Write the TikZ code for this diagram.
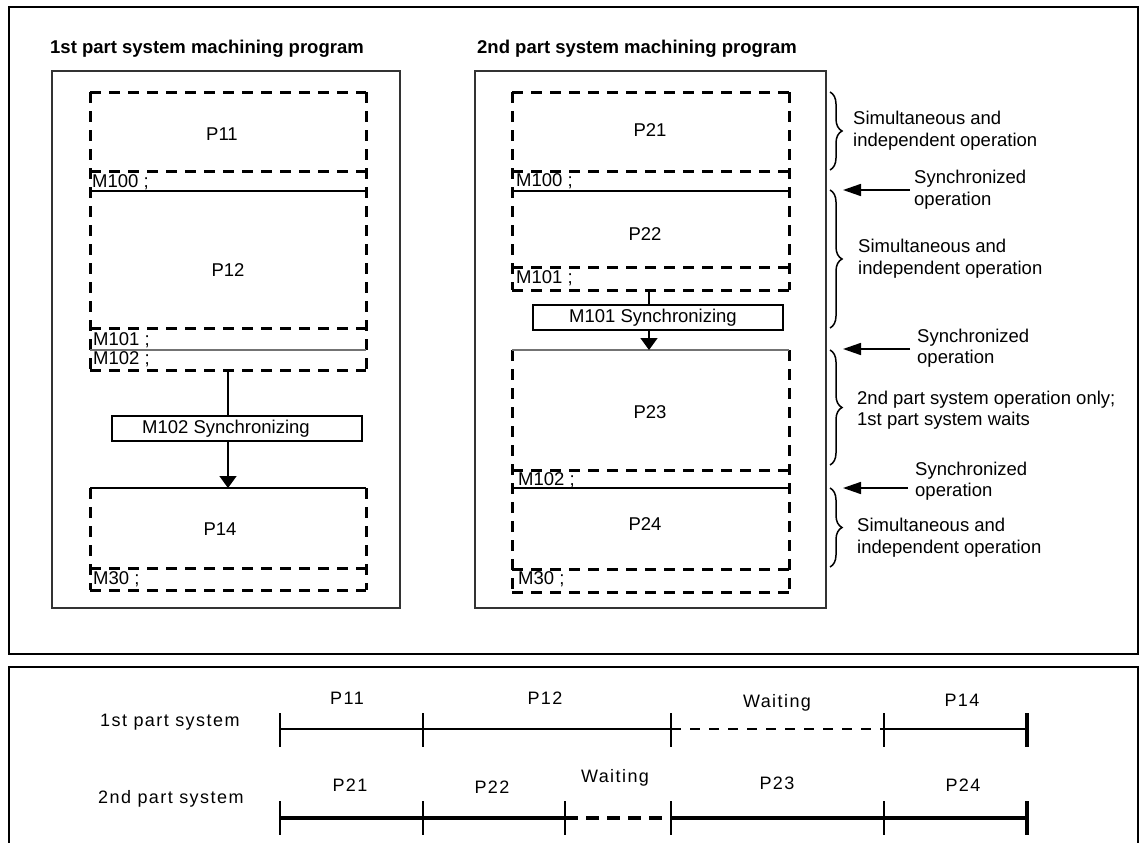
\documentclass[tikz,border=0pt]{standalone}
\usepackage{fontspec}
\setmainfont{Liberation Sans}
\usetikzlibrary{arrows.meta,decorations.pathreplacing}
\begin{document}
\begin{tikzpicture}[x=1pt,y=-1pt,
 every node/.style={font=\fontsize{18.5}{21.5}\selectfont, inner sep=0pt},
 outerframe/.style={line width=2pt},
 progbox/.style={line width=1.8pt, draw=black!80},
 dsh/.style={line width=3pt, dash pattern=on 11pt off 8pt},
 sol/.style={line width=2.2pt},
 grayline/.style={line width=1.6pt, draw=black!55},
 syncbox/.style={draw, line width=1.5pt, minimum width=250pt, minimum height=25pt},
 arr/.style={line width=1.6pt, -{Triangle[length=12pt,width=17pt]}},
 sarr/.style={line width=1.6pt, -{Triangle[length=18pt,width=12pt]}},
 brc/.style={decorate, decoration={brace, amplitude=12pt}, line width=1.5pt},
 mlab/.style={anchor=west},
 side/.style={anchor=west, align=left},
 tl/.style={font=\fontsize{18}{21}\selectfont\addfontfeature{LetterSpace=8}},
 tthin/.style={line width=1.8pt},
 tthick/.style={line width=4pt},
 tick/.style={line width=2.2pt},
 endtick/.style={line width=4.5pt},
]
\useasboundingbox (0,0) rectangle (1143,843);
% frames
\draw[outerframe] (9,7) rectangle (1138,654);
\draw[outerframe] (9,843) -- (9,667) -- (1138,667) -- (1138,843);
\draw[progbox] (52,71) rectangle (400,608);
\draw[progbox] (475,71) rectangle (826,608);
\node[anchor=west, font=\fontsize{18.5}{21.5}\selectfont\bfseries] (t1) at (50,49) {1st part system machining program};
\node[anchor=west, font=\fontsize{18.5}{21.5}\selectfont\bfseries] (t2) at (477,49) {2nd part system machining program};

% ---- left program
\draw[dsh] (90,92) -- (366,92);
\draw[dsh] (90,171) -- (366,171);
\draw[dsh] (90,328) -- (366,328);
\draw[dsh] (90,370) -- (366,370);
\draw[dsh] (90,92) -- (90,370);
\draw[dsh] (366,92) -- (366,370);
\draw[sol] (90,191) -- (366,191);
\draw[grayline] (90,350) -- (366,350);
\draw[sol] (90,488) -- (366,488);
\draw[dsh] (90,488) -- (90,590);
\draw[dsh] (366,488) -- (366,590);
\draw[dsh] (90,568) -- (366,568);
\draw[dsh] (90,590) -- (366,590);
\node (p11) at (222,134) {P11};
\node (p12) at (228,270) {P12};
\node (p14) at (220,529) {P14};
\node[mlab] (m100a) at (92,182) {M100 ;};
\node[mlab] (m101a) at (93,340) {M101 ;};
\node[mlab] (m102a) at (93,359) {M102 ;};
\node[mlab] (m30a) at (93,579) {M30 ;};
\coordinate (c1top) at (228,370);
\coordinate (c1end) at (228,488);
\node[syncbox] (s1) at (237,428.5) {};
\node (s1t) at (226,428.5) {M102 Synchronizing};
\draw[line width=1.6pt] (c1top) -- (c1top |- s1.north);
\draw[arr] (c1top |- s1.south) -- (c1end);

% ---- right program
\draw[dsh] (512,92) -- (789,92);
\draw[dsh] (512,171) -- (789,171);
\draw[dsh] (512,267) -- (789,267);
\draw[dsh] (512,290) -- (789,290);
\draw[dsh] (512,92) -- (512,290);
\draw[dsh] (789,92) -- (789,290);
\draw[sol] (512,191) -- (789,191);
\draw[dsh] (512,350) -- (512,592);
\draw[dsh] (789,350) -- (789,592);
\draw[dsh] (512,470) -- (789,470);
\draw[dsh] (512,569) -- (789,569);
\draw[dsh] (512,592) -- (789,592);
\draw[grayline] (512,350) -- (789,350);
\draw[sol] (512,488) -- (789,488);
\node (p21) at (650,130) {P21};
\node (p22) at (645,234) {P22};
\node (p23) at (650,412) {P23};
\node (p24) at (645,524) {P24};
\node[mlab] (m100b) at (516,181) {M100 ;};
\node[mlab] (m101b) at (516,278) {M101 ;};
\node[mlab] (m102b) at (518,480) {M102 ;};
\node[mlab] (m30b) at (518,579) {M30 ;};
\coordinate (c2top) at (649,290);
\coordinate (c2end) at (649,350);
\node[syncbox] (s2) at (658,317.5) {};
\node (s2t) at (653,317.5) {M101 Synchronizing};
\draw[line width=1.6pt] (c2top) -- (c2top |- s2.north);
\draw[arr] (c2top |- s2.south) -- (c2end);

% ---- braces and side notes
\draw[brc] (830,92) -- (830,170);
\draw[brc] (830,190) -- (830,328);
\draw[brc] (830,350) -- (830,465);
\draw[brc] (830,488) -- (830,567);
\node[side] (b1) at (853,130.5) {Simultaneous and\\independent operation};
\node[side] (b2) at (858,258.5) {Simultaneous and\\independent operation};
\node[side] (b3) at (857,410) {2nd part system operation only;\\1st part system waits};
\node[side] (b4) at (857,537.5) {Simultaneous and\\independent operation};
\node[side] (y1) at (914,189.5) {Synchronized\\operation};
\node[side] (y2) at (917,348) {Synchronized\\operation};
\node[side] (y3) at (915,481) {Synchronized\\operation};
\coordinate (y1tip) at (843,190);
\coordinate (y2tip) at (843,349);
\coordinate (y3tip) at (843,488);
\draw[sarr] (910,190) -- (y1tip);
\draw[sarr] (910,349) -- (y2tip);
\draw[sarr] (908,488) -- (y3tip);

% ---- timeline
\node[tl, anchor=west] (r1) at (100,722) {1st part system};
\node[tl, anchor=west] (r2) at (98,799) {2nd part system};
\coordinate (a0) at (280,729);
\coordinate (a1) at (423,729);
\coordinate (a2) at (671,729);
\coordinate (a3) at (884,729);
\coordinate (a4) at (1027,729);
\draw[tthin] (a0) -- (a2);
\draw[tthin, dash pattern=on 10pt off 9pt] (a2) -- (a3);
\draw[tthin] (a3) -- (a4);
\foreach \x in {280,423,671,884} \draw[tick] (\x,713) -- (\x,747);
\draw[endtick] (1027,713) -- (1027,747);
\coordinate (b0) at (280,818);
\coordinate (b1) at (423,818);
\coordinate (b2) at (565,818);
\coordinate (b3) at (671,818);
\coordinate (b4) at (884,818);
\coordinate (b5) at (1027,818);
\draw[tthick] (b0) -- (b2);
\draw[tthick, dash pattern=on 13pt off 8pt] (b2) -- (b3);
\draw[tthick] (b3) -- (b5);
\foreach \x in {280,423,565,671,884} \draw[tick] (\x,801) -- (\x,835);
\draw[endtick] (1027,801) -- (1027,835);
\node[tl] (l11) at (347,698) {P11};
\node[tl] (l12) at (545,698) {P12};
\node[tl] (l1w) at (777,703) {Waiting};
\node[tl] (l14) at (962,700) {P14};
\node[tl] (l21) at (350,785) {P21};
\node[tl] (l22) at (492,787) {P22};
\node[tl] (l2w) at (615,778) {Waiting};
\node[tl] (l23) at (777,783) {P23};
\node[tl] (l24) at (963,785) {P24};
\end{tikzpicture}
\end{document}
